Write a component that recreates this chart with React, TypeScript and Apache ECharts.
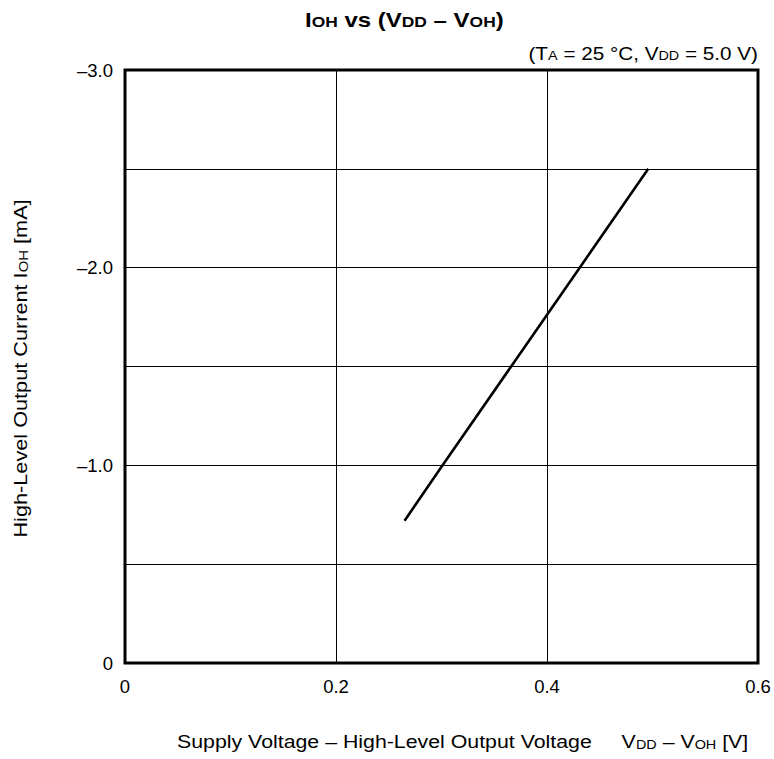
import React, { useEffect, useRef } from "react";
import * as echarts from "echarts";

const xRange = [0, 0.6];
const yRange = [-3, 0];
const voltage = [0.265, 0.301, 0.366, 0.431, 0.496];
const current = [-0.72, -1.0, -1.5, -2.0, -2.5];

const FONT = "'Liberation Sans', Arial, sans-serif";

export default function App() {
  const ref = useRef<HTMLDivElement>(null);
  useEffect(() => {
    if (!ref.current) return;
    const chart = echarts.init(ref.current, null, { renderer: "svg" });
    const sub = (size: number, bold = false) => ({
      fontSize: size,
      fontFamily: FONT,
      fontWeight: bold ? "bold" : "normal",
      color: "#000",
      verticalAlign: "bottom",
    });
    chart.setOption({
      animation: false,
      backgroundColor: "#fff",
      grid: {
        left: 125,
        right: 16,
        top: 70,
        bottom: 96,
        show: true,
        borderColor: "#000",
        borderWidth: 3,
        backgroundColor: "transparent",
      },
      xAxis: {
        type: "value",
        min: xRange[0],
        max: xRange[1],
        interval: 0.2,
        axisLine: { show: false },
        axisTick: { show: false },
        splitLine: { show: true, lineStyle: { color: "#000", width: 1 } },
        axisLabel: {
          margin: 14,
          fontSize: 18.5,
          fontFamily: FONT,
          color: "#000",
          formatter: (v: number) => (v === 0 ? "0" : v.toFixed(1)),
        },
      },
      yAxis: {
        type: "value",
        min: yRange[0],
        max: yRange[1],
        interval: 0.5,
        inverse: true,
        axisLine: { show: false },
        axisTick: { show: false },
        splitLine: { show: true, lineStyle: { color: "#000", width: 1 } },
        axisLabel: {
          margin: 12,
          fontSize: 18.5,
          fontFamily: FONT,
          color: "#000",
          padding: [8, 0, 0, 0],
          formatter: (v: number) => {
            if (Math.abs(v) < 1e-9) return "0";
            const a = Math.abs(v);
            if (Math.abs(a - Math.round(a)) < 1e-9) return "\u2013" + a.toFixed(1);
            return "";
          },
        },
      },
      series: [
        {
          type: "line",
          data: voltage.map((x, i) => [x, current[i]]),
          symbol: "none",
          lineStyle: { color: "#000", width: 2.6 },
          z: 5,
        },
      ],
      graphic: [
        {
          type: "text",
          x: 305,
          y: 20,
          scaleX: 1.2,
          style: {
            text: "{b|I}{bs|OH}{b| vs (V}{bs|DD}{b| \u2013 V}{bs|OH}{b|)}",
            rich: { b: sub(20, true), bs: sub(14.5, true) },
            align: "left",
            verticalAlign: "middle",
          },
        },
        {
          type: "text",
          x: 758,
          y: 53.7,
          scaleX: 1.15,
          style: {
            text: "{n|(T}{s|A}{n| = 25 \u00b0C, V}{s|DD}{n| = 5.0 V)}",
            rich: { n: sub(18), s: sub(12.5) },
            align: "right",
            verticalAlign: "middle",
          },
        },
        {
          type: "text",
          x: 177,
          y: 742,
          scaleX: 1.153,
          style: {
            text: "{n|Supply Voltage \u2013 High-Level Output Voltage     V}{s|DD}{n| \u2013 V}{s|OH}{n| [V]}",
            rich: { n: sub(18.5), s: sub(12.5) },
            align: "left",
            verticalAlign: "middle",
          },
        },
        {
          type: "text",
          x: 20.6,
          y: 368.5,
          rotation: Math.PI / 2,
          scaleX: 1.24,
          style: {
            text: "{n|High-Level Output Current I}{s|OH}{n| [mA]}",
            rich: { n: sub(17.5), s: sub(12) },
            align: "center",
            verticalAlign: "middle",
          },
        },
      ],
    });
    return () => chart.dispose();
  }, []);
  return (
    <div
      ref={ref}
      style={{ position: "fixed", left: 0, top: 0, width: 774, height: 759 }}
    />
  );
}
